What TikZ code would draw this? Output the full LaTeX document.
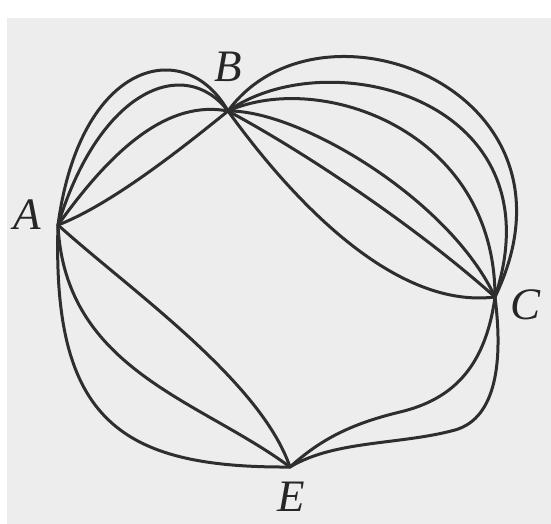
\documentclass[tikz,border=0pt]{standalone}
\usepackage{fontspec}
\setmainfont{Liberation Serif}
\begin{document}
\begin{tikzpicture}[x=1pt,y=-1pt,
  edge/.style={draw=black!82, line width=3pt, line cap=round},
  lbl/.style={inner sep=0pt, text=black!85, font=\fontsize{45}{45}\selectfont\itshape}]
\useasboundingbox (0,0) rectangle (551,524);
\fill[white] (0,0) rectangle (551,524);
\fill[black!7] (7,18) rectangle (551,524);
% vertices
\coordinate (A) at (58,225);
\coordinate (B) at (228,111);
\coordinate (C) at (495,297);
\coordinate (E) at (290,467);
\coordinate (m1) at (455,430);
\coordinate (m2) at (400,412);
% labels
\node[lbl] (lA) at (27,215) {A};
\node[lbl] (lB) at (228,67) {B};
\node[lbl] (lC) at (525,305) {C};
\node[lbl] (lE) at (291,497) {E};
% A -- B
\draw[edge] (A) .. controls (80,60) and (185,35) .. (B);
\draw[edge] (A) .. controls (100,88) and (185,55) .. (B);
\draw[edge] (A) .. controls (115,145) and (170,100) .. (B);
\draw[edge] (A) .. controls (110,205) and (180,150) .. (B);
% B -- C
\draw[edge] (B) .. controls (320,-15) and (595,90) .. (C);
\draw[edge] (B) .. controls (330,40) and (560,100) .. (C);
\draw[edge] (B) .. controls (320,70) and (495,130) .. (C);
\draw[edge] (B) .. controls (300,110) and (450,200) .. (C);
\draw[edge] (B) .. controls (310,155) and (420,230) .. (C);
\draw[edge] (B) .. controls (285,190) and (390,310) .. (C);
% A -- E
\draw[edge] (A) .. controls (52,420) and (120,468) .. (E);
\draw[edge] (A) .. controls (65,370) and (200,400) .. (E);
\draw[edge] (A) .. controls (130,290) and (260,380) .. (E);
% C -- E
\draw[edge] (C) .. controls (503,360) and (497,418) .. (m1)
                .. controls (400,445) and (335,440) .. (E);
\draw[edge] (C) .. controls (485,370) and (450,400) .. (m2)
                .. controls (350,424) and (320,440) .. (E);
\end{tikzpicture}
\end{document}
